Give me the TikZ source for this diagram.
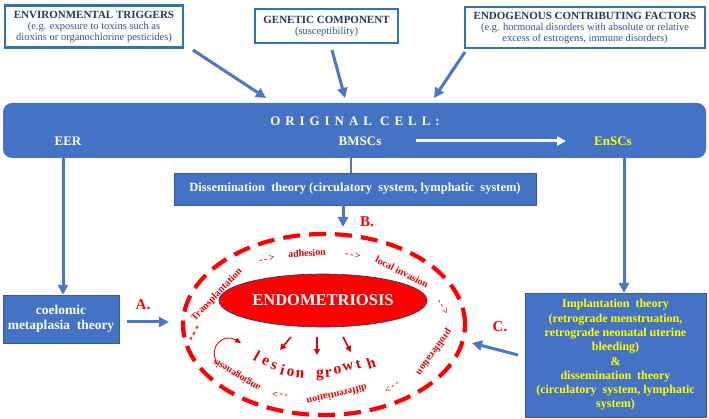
\documentclass[tikz,border=0pt]{standalone}
\usepackage{fontspec}
\setmainfont{Liberation Serif}
\usetikzlibrary{arrows.meta,shapes.geometric}
\definecolor{boxblue}{HTML}{4472C4}
\definecolor{arrblue}{HTML}{4A76C6}
\definecolor{topborder}{HTML}{2E75B6}
\definecolor{titlecol}{HTML}{203864}
\definecolor{bodycol}{HTML}{2F5597}
\definecolor{lred}{HTML}{FF0000}
\definecolor{tred}{HTML}{E00000}
\definecolor{yel}{HTML}{FFFF00}
\begin{document}
\begin{tikzpicture}[x=1pt,y=-1pt,
  topbox/.style={draw=topborder, line width=2.2pt, fill=white, inner sep=0pt, align=center},
  bluebox/.style={fill=boxblue, draw=boxblue!80!black, line width=0.4pt, inner sep=0pt, align=center, text=white, font=\bfseries\fontsize{12}{14.5}\selectfont},
  barr/.style={draw=arrblue, line width=3pt, -{Triangle[length=10pt,width=10pt]}},
  lab/.style={text=tred, font=\bfseries\fontsize{10}{12}\selectfont, inner sep=0pt},
  lg/.style={text=tred, font=\bfseries\fontsize{15.5}{17}\selectfont, inner sep=0pt},
  rarr/.style={draw=tred, line width=1.6pt, -{Triangle[length=6pt,width=6pt]}},
  abc/.style={text=lred, font=\bfseries\fontsize{15}{17}\selectfont, inner sep=0pt},
  celltxt/.style={text=white, font=\bfseries\fontsize{13}{15}\selectfont, inner sep=0pt}
]
\useasboundingbox (0,0) rectangle (709,419);

% top boxes
\node[topbox, minimum width=178pt, minimum height=42pt] (env) at (94,26.5)
  {{\color{titlecol}\fontsize{11}{13}\selectfont\bfseries ENVIRONMENTAL TRIGGERS}\\[-1pt]
   {\color{bodycol}\fontsize{10.5}{13}\selectfont (e.g. exposure to toxins such as}\\[-1pt]
   {\color{bodycol}\fontsize{10.5}{13}\selectfont dioxins or organochlorine pesticides)}};
\node[topbox, minimum width=143pt, minimum height=34pt] (gen) at (326.5,26)
  {{\color{titlecol}\fontsize{11}{13}\selectfont\bfseries GENETIC COMPONENT}\\[-1pt]
   {\color{bodycol}\fontsize{10.5}{13}\selectfont (susceptibility)}};
\node[topbox, minimum width=240pt, minimum height=41pt] (endo) at (585,27.5)
  {{\color{titlecol}\fontsize{11}{13}\selectfont\bfseries ENDOGENOUS CONTRIBUTING FACTORS}\\[-1pt]
   {\color{bodycol}\fontsize{10.5}{13}\selectfont (e.g. hormonal disorders with absolute or relative}\\[-1pt]
   {\color{bodycol}\fontsize{10.5}{13}\selectfont excess of estrogens, immune disorders)}};

% main bar
\node[fill=boxblue, rounded corners=9pt, minimum width=703pt, minimum height=55pt, inner sep=0pt] (bar) at (354.5,130.5) {};
\node[celltxt] (orig) at (355,121) {\addfontfeature{LetterSpace=38}ORIGINAL CELL:};
\node[celltxt] (eer) at (68,141) {EER};
\node[celltxt] (bmsc) at (360,141) {BMSCs};
\node[celltxt, text=yel] (ensc) at (613,141) {EnSCs};
\coordinate (wa1) at (416,141);
\coordinate (wa2) at (566,141);
\draw[draw=white, line width=3pt, -{Triangle[length=9pt,width=9pt]}] (wa1) -- (wa2);

% arrows from top boxes
\coordinate (e1) at (193,50); \coordinate (e2) at (266,98);
\coordinate (g1) at (332,50); \coordinate (g2) at (345,98);
\coordinate (n1) at (465,52); \coordinate (n2) at (434,98);
\draw[barr] (e1) -- (e2);
\draw[barr] (g1) -- (g2);
\draw[barr] (n1) -- (n2);

% dissemination box
\node[bluebox, minimum width=362pt, minimum height=32pt, font=\bfseries\fontsize{12.5}{14}\selectfont] (diss) at (355,189)
  {Dissemination\ \ theory (circulatory\ \ system, lymphatic\ \ system)};
\draw[draw=arrblue, line width=2.5pt] (351,158) -- (diss.north -| 351,0);
\coordinate (b1) at (343,205); \coordinate (b2) at (343,227);
\draw[barr] (b1) -- (b2);
\node[abc] (B) at (367,222) {B.};

% coelomic box
\node[bluebox, minimum width=116pt, minimum height=48pt, font=\bfseries\fontsize{13.5}{15.5}\selectfont] (coel) at (61,319) {coelomic\\metaplasia\ \ theory};
\draw[barr] (63,158) -- (coel.north -| 63,0);
\coordinate (a1) at (127,322); \coordinate (a2) at (169,322);
\draw[barr] (a1) -- (a2);
\node[abc] (A) at (143,305) {A.};

% implantation box
\node[bluebox, minimum width=181pt, minimum height=124pt, text=yel, font=\bfseries\fontsize{12}{14.3}\selectfont] (impl) at (615.5,355)
  {Implantation\ \ theory\\(retrograde menstruation,\\retrograde neonatal uterine\\bleeding)\\\&\\dissemination\ \ theory\\(circulatory\ \ system, lymphatic\\system)};
\draw[barr] (624,158) -- (impl.north -| 624,0);
\coordinate (c1) at (518,355); \coordinate (c2) at (472,343);
\draw[barr] (c1) -- (c2);
\node[abc] (C) at (500,327) {C.};

% dashed ellipse
\draw[lred, line width=4.2pt, dash pattern=on 17pt off 9pt] (324,324.5) ellipse [x radius=141pt, y radius=90.5pt];

% endometriosis
\node[draw=titlecol, line width=0.6pt, fill=lred, ellipse, minimum width=208pt, minimum height=53pt, inner sep=0pt, text=white, font=\bfseries\fontsize{16.5}{19}\selectfont] (endom) at (323,300.5) {ENDOMETRIOSIS};

% labels around
\node[lab, rotate=46] (tr) at (217,295) {Transplantation};
\node[lab, rotate=60, font=\bfseries\fontsize{8}{9}\selectfont] (st) at (195,334) {* * *};
\node[lab, rotate=15] (d1) at (267,259) {-\,-\,>};
\node[lab, rotate=3] (ad) at (307,253) {adhesion};
\node[lab, rotate=-8] (d2) at (353,255) {-\,-\,>};
\node[lab, rotate=-27] (li) at (402,272) {local invasion};
\node[lab, rotate=-61] (d3) at (443,307) {-\,-\,>};
\node[lab, rotate=-126] (pr) at (434,352) {proliferation};
\node[lab, rotate=-150] (d4) at (392,387) {-\,-\,>};
\node[lab, rotate=193] (df) at (337,395) {differentiation};
\node[lab, rotate=170] (d5) at (280,395) {-\,-\,>};
\node[lab, rotate=149] (an) at (237,375) {angiogenesis};

% loop arrow
\coordinate (lp1) at (217,364); \coordinate (lp2) at (241,343);
\draw[draw=tred, line width=0.9pt, -{Triangle[length=6pt,width=5pt]}] (lp1) .. controls (208,345) and (224,333) .. (lp2);

% three arrows
\coordinate (r1a) at (291,337); \coordinate (r1b) at (280,350);
\coordinate (r2a) at (317,337); \coordinate (r2b) at (317,355);
\coordinate (r3a) at (343,337); \coordinate (r3b) at (351,352);
\draw[rarr] (r1a) -- (r1b);
\draw[rarr] (r2a) -- (r2b);
\draw[rarr] (r3a) -- (r3b);

% lesion growth
\foreach \c/\x/\y/\r [count=\i] in {l/257/356/-30, e/265.5/362/-25, s/274/366.5/-20, i/282.5/370/-15, o/290.5/373/-10, n/300/374.5/-5,
  g/320/375/0, r/328.5/373/6, o/337.5/370.5/10, w/348/367/13, t/358.5/365/16, h/371/363/18}
  \node[lg, rotate=\r] (lg\i) at (\x,\y) {\c};
\end{tikzpicture}
\end{document}
